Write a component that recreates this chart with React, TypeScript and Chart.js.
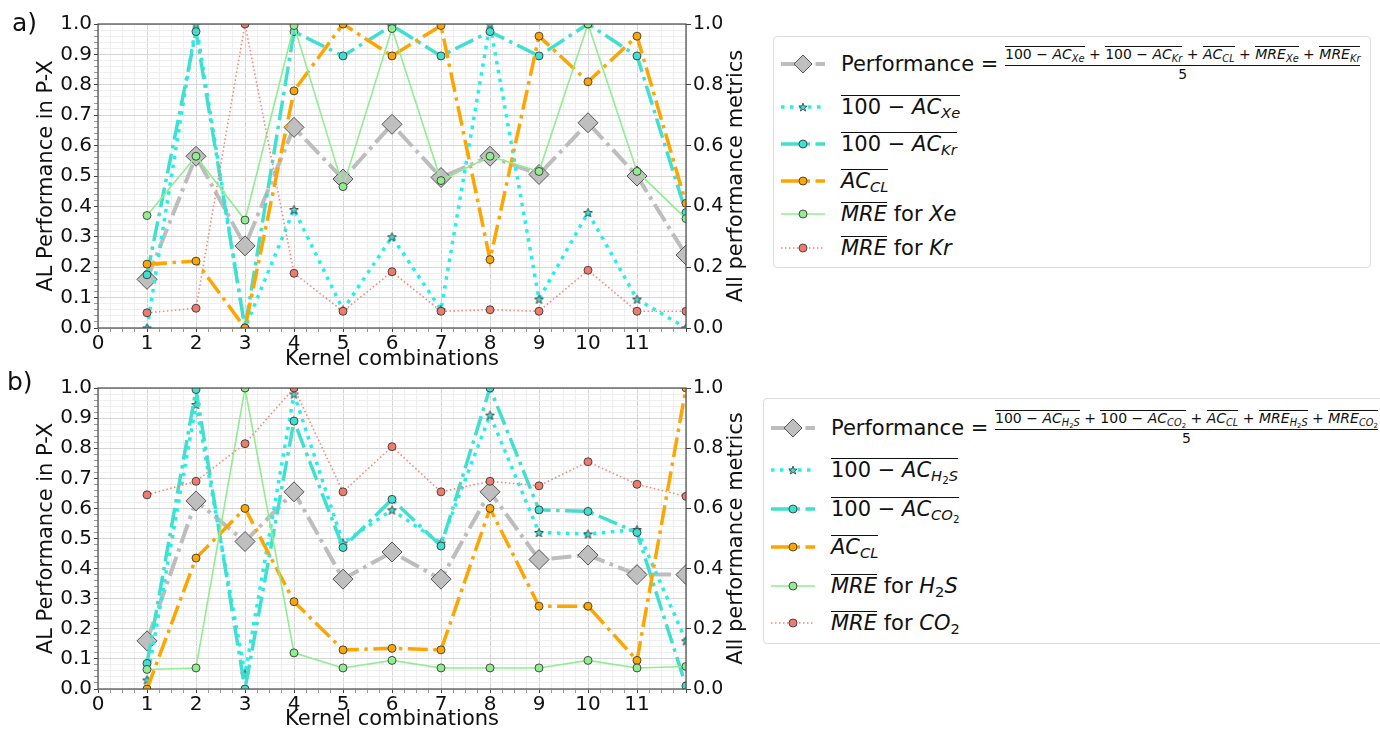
import React, { useEffect, useRef } from 'react';
import { Chart, registerables } from 'chart.js';

Chart.register(...registerables);

// ---- data -------------------------------------------------------------
const kernels = [1, 2, 3, 4, 5, 6, 7, 8, 9, 10, 11, 12];
const xTickMax = 11;

// panel a) Xe / Kr
const perfA = [0.16, 0.565, 0.27, 0.66, 0.49, 0.67, 0.495, 0.565, 0.505, 0.675, 0.5, 0.24];
const acXeA = [0.0, 1.0, 0.0, 0.39, 0.06, 0.3, 0.06, 1.0, 0.095, 0.38, 0.095, 0.0];
const acKrA = [0.175, 0.975, 0.0, 0.975, 0.895, 0.995, 0.895, 0.975, 0.895, 1.0, 0.895, 0.38];
const acClA = [0.21, 0.22, 0.0, 0.78, 1.0, 0.895, 0.995, 0.225, 0.96, 0.81, 0.96, 0.41];
const mreXeA = [0.37, 0.565, 0.355, 0.995, 0.465, 0.985, 0.485, 0.565, 0.515, 1.0, 0.515, 0.36];
const mreKrA = [0.05, 0.065, 1.0, 0.18, 0.055, 0.185, 0.055, 0.06, 0.055, 0.19, 0.055, 0.055];

// panel b) H2S / CO2
const perfB = [0.16, 0.625, 0.49, 0.655, 0.365, 0.455, 0.365, 0.655, 0.43, 0.445, 0.38, 0.38];
const acH2sB = [0.03, 0.945, 0.05, 0.98, 0.485, 0.595, 0.485, 0.91, 0.52, 0.515, 0.53, 0.16];
const acCo2B = [0.085, 0.995, 0.0, 0.89, 0.47, 0.63, 0.475, 1.0, 0.595, 0.59, 0.52, 0.01];
const acClB = [0.0, 0.435, 0.6, 0.29, 0.13, 0.135, 0.13, 0.6, 0.275, 0.275, 0.095, 1.0];
const mreH2sB = [0.065, 0.07, 1.0, 0.12, 0.07, 0.095, 0.07, 0.07, 0.07, 0.095, 0.07, 0.075];
const mreCo2B = [0.645, 0.69, 0.815, 1.0, 0.655, 0.805, 0.655, 0.69, 0.675, 0.755, 0.68, 0.64];

const gasesA = ['Xe', 'Kr'];
const gasesB = ['H2S', 'CO2'];

const leftTitle = 'AL Performance in P-X';
const rightTitle = 'All performance metrics';
const xTitle = 'Kernel combinations';

// ---- styles -----------------------------------------------------------
const FONT = '"DejaVu Sans", sans-serif';
const TITLE_SIZE = 21;
const TICK_SIZE = 20;
const RIGHT_TICK_SIZE = 19;
const DASHDOT = [20, 5.5, 3.5, 5.5];
const DOTS = [3.5, 5.5];
const FINE_DOTS = [1.5, 2.5];

const C = {
  perf: '#bdbdbd',
  perfMarker: '#bfbfbf',
  cyan: '#22f0f0',
  teal: '#40e0d0',
  orange: '#ffa500',
  green: '#90ee90',
  red: '#f4877a',
  redMarker: '#f07a6c',
  edge: '#3b3b3b',
};

function makeStar(size: number, fill: string, stroke: string) {
  const c = document.createElement('canvas');
  c.width = size;
  c.height = size;
  const g = c.getContext('2d')!;
  const cx = size / 2;
  const cy = size / 2 + 0.5;
  const R = size / 2 - 0.8;
  const r = R * 0.42;
  g.beginPath();
  for (let i = 0; i < 10; i++) {
    const a = -Math.PI / 2 + (i * Math.PI) / 5;
    const rad = i % 2 ? r : R;
    const px = cx + rad * Math.cos(a);
    const py = cy + rad * Math.sin(a);
    if (i === 0) g.moveTo(px, py);
    else g.lineTo(px, py);
  }
  g.closePath();
  g.fillStyle = fill;
  g.fill();
  g.strokeStyle = stroke;
  g.lineWidth = 0.9;
  g.stroke();
  return c;
}

const pts = (vals: number[]) => kernels.map((k, i) => ({ x: k, y: vals[i] }));

function buildDatasets(vals: number[][], star: HTMLCanvasElement) {
  const [perf, acA, acB, acCl, mreA, mreB] = vals;
  const circle = (bg: string) => ({
    pointStyle: 'circle',
    pointRadius: 4,
    pointBackgroundColor: bg,
    pointBorderColor: C.edge,
    pointBorderWidth: 0.9,
  });
  return [
    {
      data: pts(perf), borderColor: C.perf, borderWidth: 4, borderDash: DASHDOT,
      pointStyle: 'rectRot', pointRadius: 10, pointBackgroundColor: C.perfMarker,
      pointBorderColor: '#555', pointBorderWidth: 1, order: 6,
    },
    {
      data: pts(acA), borderColor: C.cyan, borderWidth: 3.5, borderDash: DOTS,
      pointStyle: star, pointRadius: 5, order: 5,
    },
    { data: pts(acB), borderColor: C.teal, borderWidth: 3.5, borderDash: DASHDOT, ...circle(C.teal), order: 4 },
    { data: pts(acCl), borderColor: C.orange, borderWidth: 3.5, borderDash: DASHDOT, ...circle(C.orange), order: 3 },
    { data: pts(mreA), borderColor: C.green, borderWidth: 1.6, ...circle(C.green), order: 2 },
    { data: pts(mreB), borderColor: C.red, borderWidth: 1.6, borderDash: FINE_DOTS, ...circle(C.redMarker), order: 1 },
  ].map((d: any) => ({ ...d, fill: false, tension: 0, clip: 0, borderCapStyle: 'butt', borderJoinStyle: 'miter' }));
}

const isInt = (v: number) => Math.abs(v - Math.round(v)) < 1e-6;
const isTenth = (v: number) => Math.round(v * 50) % 5 === 0;

// axes frame on all four sides plus the right-hand axis title
const framePlugin = {
  id: 'frame',
  afterDraw(chart: any) {
    const { ctx, chartArea } = chart;
    const { left, top, right, bottom } = chartArea;
    ctx.save();
    ctx.strokeStyle = '#4a4a4a';
    ctx.lineWidth = 1.2;
    ctx.strokeRect(left, top, right - left, bottom - top);
    ctx.font = `${TITLE_SIZE}px ${FONT}`;
    ctx.fillStyle = '#111';
    ctx.textAlign = 'center';
    ctx.textBaseline = 'alphabetic';
    ctx.translate(742, (top + bottom) / 2);
    ctx.rotate(-Math.PI / 2);
    ctx.fillText(rightTitle, 0, 0);
    ctx.restore();
  },
};

function makeConfig(datasets: any[], padTop: number, xHeight: number) {
  const tickFont = { family: FONT, size: TICK_SIZE };
  const titleFont = { family: FONT, size: TITLE_SIZE };
  return {
    type: 'line',
    data: { datasets },
    plugins: [framePlugin],
    options: {
      animation: false,
      responsive: false,
      devicePixelRatio: 1,
      events: [],
      layout: { padding: { top: padTop, left: 0, right: 0, bottom: 0 } },
      plugins: { legend: { display: false }, tooltip: { enabled: false } },
      scales: {
        x: {
          type: 'linear',
          min: 0,
          max: 12,
          border: { display: false },
          afterFit: (s: any) => { s.height = xHeight; },
          ticks: {
            stepSize: 0.25,
            autoSkip: false,
            maxRotation: 0,
            padding: 0,
            color: '#111',
            font: tickFont,
            callback: (v: number) => (isInt(v) && v <= xTickMax ? String(Math.round(v)) : ''),
          },
          grid: {
            color: (c: any) => (isInt(c.tick.value) ? '#d6d6d6' : '#efefef'),
            tickColor: (c: any) => (isInt(c.tick.value) ? '#444' : '#999'),
            tickLength: 4,
            lineWidth: 1,
          },
          title: { display: true, text: xTitle, color: '#111', font: titleFont, padding: { top: 0, bottom: 0 } },
        },
        y: {
          position: 'left',
          min: 0,
          max: 1,
          border: { display: false },
          afterFit: (s: any) => { s.width = 98; },
          ticks: {
            stepSize: 0.02,
            autoSkip: false,
            padding: 2,
            color: '#111',
            font: tickFont,
            callback: (v: number) => (isTenth(v) ? (Math.round(v * 10) / 10).toFixed(1) : ''),
          },
          grid: {
            color: (c: any) => (isTenth(c.tick.value) ? '#d6d6d6' : '#efefef'),
            tickColor: (c: any) => (isTenth(c.tick.value) ? '#444' : '#999'),
            tickLength: 4,
            lineWidth: 1,
          },
          title: { display: true, text: leftTitle, color: '#111', font: titleFont, padding: { top: 34, bottom: 0 } },
        },
        y1: {
          position: 'right',
          min: 0,
          max: 1,
          border: { display: false },
          afterFit: (s: any) => { s.width = 74; },
          ticks: {
            stepSize: 0.2,
            padding: 2,
            color: '#111',
            font: { family: FONT, size: RIGHT_TICK_SIZE },
            callback: (v: number) => v.toFixed(1),
          },
          grid: { drawOnChartArea: false, tickColor: '#444', tickLength: 5 },
        },
      },
    },
  };
}

// ---- legend pieces ----------------------------------------------------
function Chem({ f }: { f: string }) {
  const parts = f.split(/(\d+)/).filter(Boolean);
  return (
    <>
      {parts.map((p, i) =>
        /\d/.test(p) ? (
          <span key={i} style={{ fontSize: '0.7em', fontStyle: 'normal', position: 'relative', top: '0.3em' }}>{p}</span>
        ) : (
          <span key={i}>{p}</span>
        )
      )}
    </>
  );
}

function Sub({ children }: { children: any }) {
  return <span style={{ fontSize: '0.7em', position: 'relative', top: '0.3em', fontStyle: 'italic' }}>{children}</span>;
}

function Over({ children }: { children: any }) {
  return (
    <span style={{ display: 'inline-block', borderTop: '1.2px solid #111', lineHeight: 1.08, paddingTop: 0 }}>{children}</span>
  );
}

const I = ({ children }: { children: any }) => <span style={{ fontStyle: 'italic' }}>{children}</span>;
const MINUS = '\u2212';

function AcTerm({ g }: { g: string }) {
  return (
    <Over>
      100 {MINUS} <I>AC</I>
      <Sub><Chem f={g} /></Sub>
    </Over>
  );
}

function Sample({ kind }: { kind: string }) {
  const y = 10;
  let line: any = null;
  let marker: any = null;
  const edge = C.edge;
  if (kind === 'perf') {
    line = <line x1={1} x2={45} y1={y} y2={y} stroke={C.perf} strokeWidth={4} strokeDasharray={DASHDOT.join(' ')} />;
    marker = <polygon points={`23,${y - 9} 32,${y} 23,${y + 9} 14,${y}`} fill={C.perfMarker} stroke="#555" strokeWidth={1} />;
  } else if (kind === 'cyan') {
    line = <line x1={1} x2={45} y1={y} y2={y} stroke={C.cyan} strokeWidth={3.5} strokeDasharray={DOTS.join(' ')} />;
    const p: string[] = [];
    for (let i = 0; i < 10; i++) {
      const a = -Math.PI / 2 + (i * Math.PI) / 5;
      const r = i % 2 ? 1.8 : 4.4;
      p.push(`${(23 + r * Math.cos(a)).toFixed(2)},${(y + 0.5 + r * Math.sin(a)).toFixed(2)}`);
    }
    marker = <polygon points={p.join(' ')} fill={C.teal} stroke={edge} strokeWidth={0.8} />;
  } else if (kind === 'teal' || kind === 'orange') {
    const col = kind === 'teal' ? C.teal : C.orange;
    line = <line x1={1} x2={45} y1={y} y2={y} stroke={col} strokeWidth={3.5} strokeDasharray={DASHDOT.join(' ')} />;
    marker = <circle cx={23} cy={y} r={4} fill={col} stroke={edge} strokeWidth={0.9} />;
  } else if (kind === 'green') {
    line = <line x1={1} x2={45} y1={y} y2={y} stroke={C.green} strokeWidth={1.6} />;
    marker = <circle cx={23} cy={y} r={4} fill={C.green} stroke={edge} strokeWidth={0.9} />;
  } else {
    line = <line x1={1} x2={45} y1={y} y2={y} stroke={C.red} strokeWidth={1.6} strokeDasharray={FINE_DOTS.join(' ')} />;
    marker = <circle cx={23} cy={y} r={4} fill={C.redMarker} stroke={edge} strokeWidth={0.9} />;
  }
  return (
    <svg width={46} height={20} style={{ display: 'block' }}>
      {line}
      {marker}
    </svg>
  );
}

function Legend({ gases, left, top, width, height, rows }: any) {
  const [ga, gb] = gases;
  const labels = [
    <span style={{ display: 'inline-flex', alignItems: 'center' }}>
      <span>Performance =&nbsp;</span>
      <span style={{ display: 'inline-flex', flexDirection: 'column', alignItems: 'center', fontSize: 14 }}>
        <span style={{ whiteSpace: 'nowrap', paddingBottom: 2 }}>
          <AcTerm g={ga} /> + <AcTerm g={gb} /> + <Over><I>AC</I><Sub>CL</Sub></Over> +{' '}
          <Over><I>MRE</I><Sub><Chem f={ga} /></Sub></Over> + <Over><I>MRE</I><Sub><Chem f={gb} /></Sub></Over>
        </span>
        <span style={{ alignSelf: 'stretch', borderTop: '1.4px solid #111' }} />
        <span style={{ lineHeight: 1.15 }}>5</span>
      </span>
    </span>,
    <AcTerm g={ga} />,
    <AcTerm g={gb} />,
    <Over><I>AC</I><Sub>CL</Sub></Over>,
    <span><Over><I>MRE</I></Over> for <I><Chem f={ga} /></I></span>,
    <span><Over><I>MRE</I></Over> for <I><Chem f={gb} /></I></span>,
  ];
  const kinds = ['perf', 'cyan', 'teal', 'orange', 'green', 'red'];
  return (
    <div
      style={{
        position: 'absolute', left, top, width, height, boxSizing: 'border-box',
        border: '1px solid #dcdcdc', borderRadius: 4, background: '#fff', fontSize: 21, color: '#111',
      }}
    >
      {labels.map((lab, i) => (
        <div key={i} style={{ position: 'absolute', left: 0, top: rows[i] - 25, height: 50, display: 'flex', alignItems: 'center', whiteSpace: 'nowrap' }}>
          <div style={{ width: 46, marginLeft: 6 }}>
            <Sample kind={kinds[i]} />
          </div>
          <div style={{ marginLeft: 15 }}>{lab}</div>
        </div>
      ))}
    </div>
  );
}

export default function App() {
  const refA = useRef<HTMLCanvasElement>(null);
  const refB = useRef<HTMLCanvasElement>(null);

  useEffect(() => {
    Chart.defaults.font.family = FONT;
    const star = makeStar(11, C.teal, C.edge);
    const chartA = new Chart(
      refA.current!,
      makeConfig(buildDatasets([perfA, acXeA, acKrA, acClA, mreXeA, mreKrA], star), 24, 44) as any
    );
    const chartB = new Chart(
      refB.current!,
      makeConfig(buildDatasets([perfB, acH2sB, acCo2B, acClB, mreH2sB, mreCo2B], star), 23, 43) as any
    );
    return () => {
      chartA.destroy();
      chartB.destroy();
    };
  }, []);

  return (
    <div style={{ position: 'fixed', left: 0, top: 0, width: 1380, height: 731, background: '#fff', overflow: 'hidden', fontFamily: FONT }}>
      <canvas ref={refA} width={760} height={372} style={{ position: 'absolute', left: 0, top: 0, width: 760, height: 372 }} />
      <canvas ref={refB} width={760} height={367} style={{ position: 'absolute', left: 0, top: 365, width: 760, height: 367 }} />
      <div style={{ position: 'absolute', left: 12, top: 10, fontSize: 25, lineHeight: 1, color: '#111' }}>a)</div>
      <div style={{ position: 'absolute', left: 7, top: 369, fontSize: 25, lineHeight: 1, color: '#111' }}>b)</div>
      <Legend gases={gasesA} left={773} top={36} width={598} height={232} rows={[27, 70, 107, 144, 177, 211]} />
      <Legend gases={gasesB} left={763} top={398} width={640} height={246} rows={[29, 71, 110, 148, 187, 224]} />
    </div>
  );
}
